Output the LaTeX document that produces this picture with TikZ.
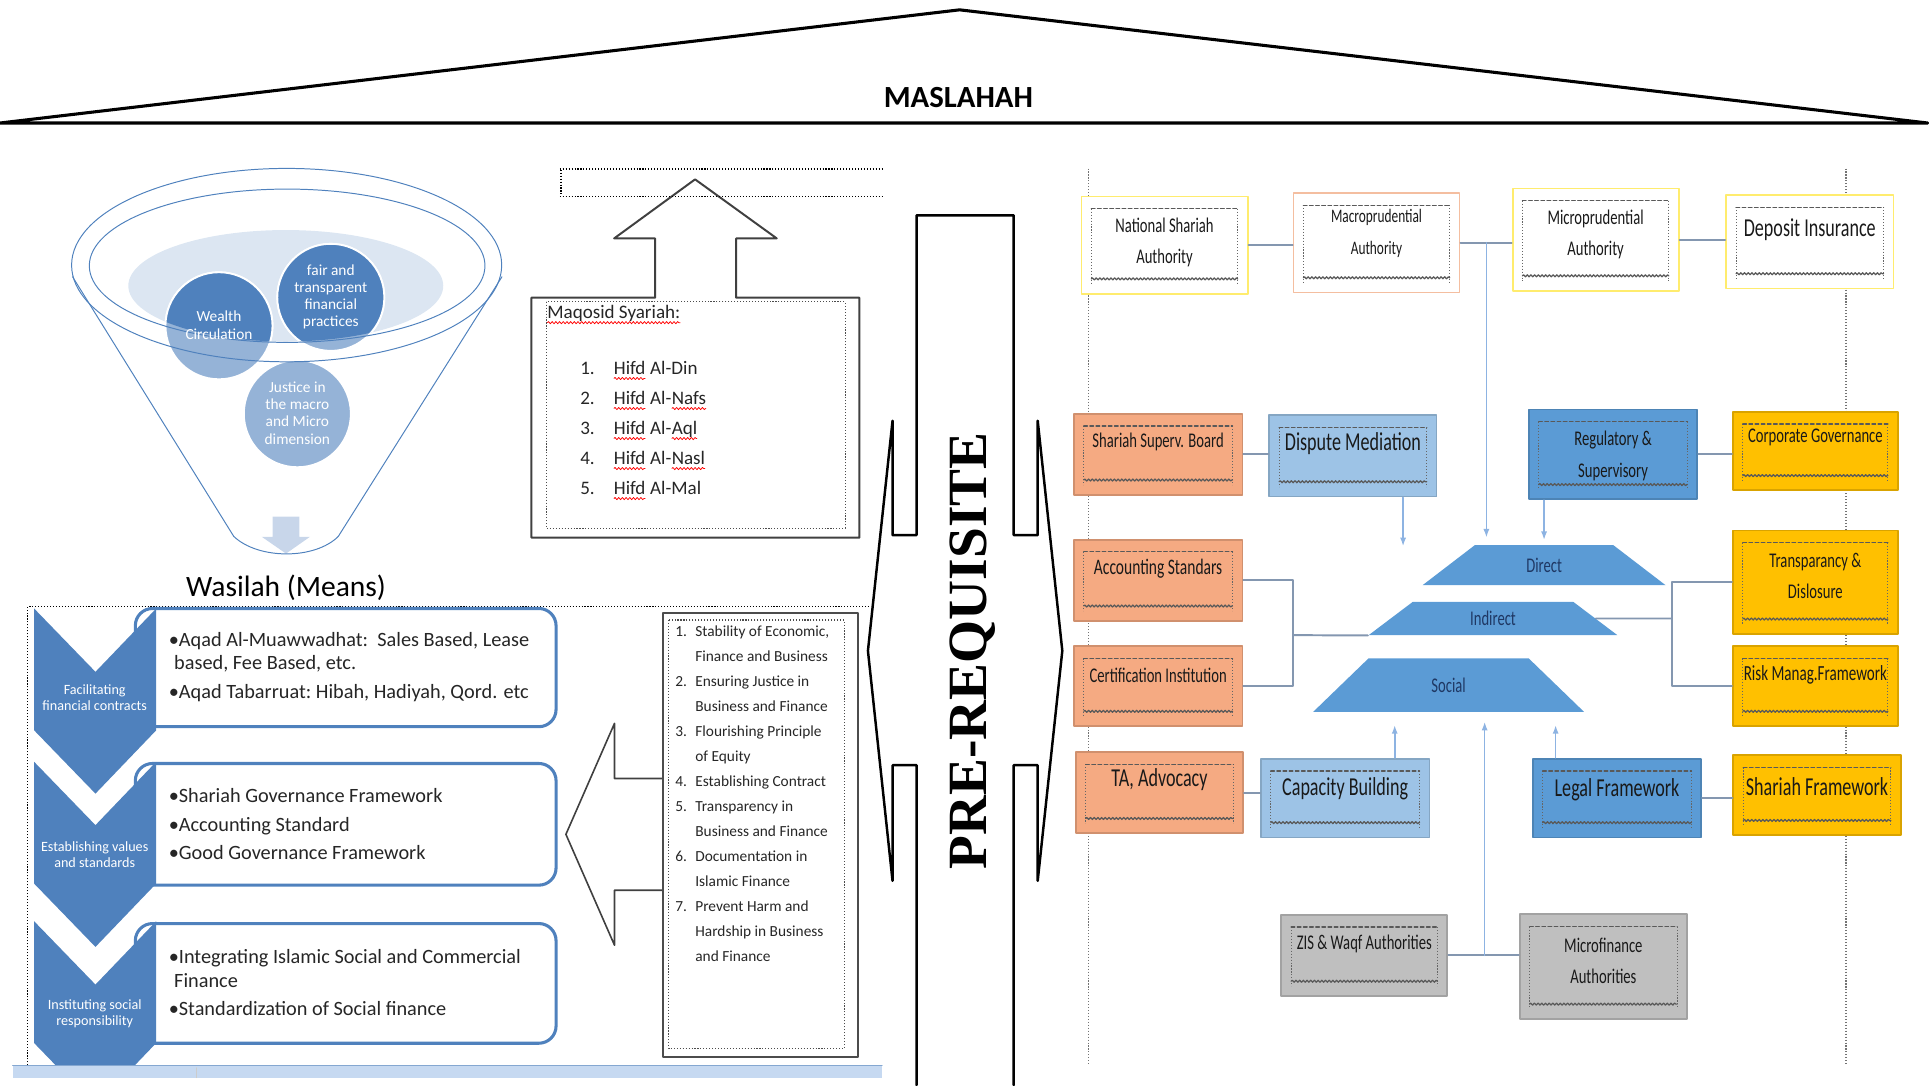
\documentclass[tikz,border=0pt]{standalone}
\usepackage{fontspec}
\setmainfont{Carlito}
\newfontfamily\narrowfont[FakeStretch=0.7]{Carlito}
\newfontfamily\prefont{Liberation Serif}
\usetikzlibrary{arrows.meta,shapes.geometric,decorations.pathmorphing}
\definecolor{chevblue}{RGB}{79,129,189}
\definecolor{lightcirc}{RGB}{149,179,215}
\definecolor{paleblue}{RGB}{220,230,242}
\definecolor{arrowpale}{RGB}{200,214,234}
\definecolor{salmon}{RGB}{245,170,130}
\definecolor{skyblue}{RGB}{157,195,230}
\definecolor{midblue}{RGB}{91,155,213}
\definecolor{gold}{RGB}{255,192,0}
\definecolor{greybox}{RGB}{191,191,191}
\definecolor{linkgrey}{RGB}{132,151,176}
\definecolor{feedblue}{RGB}{141,179,226}
\definecolor{pyellow}{RGB}{255,236,110}
\definecolor{ppeach}{RGB}{244,190,160}
\definecolor{barblue}{RGB}{198,217,241}
\definecolor{navytxt}{RGB}{31,56,100}
\newcommand{\spell}[1]{\tikz[baseline=(sw.base)]{\node[inner sep=0pt, outer sep=0pt] (sw) {#1};
  \draw[red, line width=0.6pt, decorate, decoration={snake, amplitude=0.9pt, segment length=3pt}]
    ([yshift=-3pt]sw.base west) -- ([yshift=-3pt]sw.base east);}}
\tikzset{
  dots/.style={line cap=butt, dash pattern=on 0.9pt off 1.5pt},
  boxdeco/.style={rectangle, line width=1.5pt, inner sep=0pt,
    path picture={
      \draw[black!60, dots, line width=0.8pt]
        ([shift={(8pt,-10pt)}]path picture bounding box.north west) -- ([shift={(8pt,8pt)}]path picture bounding box.south west)
        ([shift={(-8pt,-10pt)}]path picture bounding box.north east) -- ([shift={(-8pt,8pt)}]path picture bounding box.south east);
      \draw[black!65, line width=1pt, dash pattern=on 3pt off 2pt]
        ([shift={(8pt,-10pt)}]path picture bounding box.north west) -- ([shift={(-8pt,-10pt)}]path picture bounding box.north east);
      \draw[black!65, line width=1pt, decorate, decoration={snake, amplitude=0.8pt, segment length=3pt}]
        ([shift={(8pt,12pt)}]path picture bounding box.south west) -- ([shift={(-8pt,12pt)}]path picture bounding box.south east);
    }},
  orgbox/.style={boxdeco, fill=#1, draw=#1!85!black},
  authbox/.style={boxdeco, fill=white, draw=#1},
  orgtxt/.style={inner sep=0pt, align=center, text=black!90},
  trap/.style={trapezium, trapezium stretches=true, fill=midblue, inner sep=0pt,
    text=navytxt, font=\narrowfont\fontsize{17}{19}\selectfont},
  link/.style={linkgrey, line width=1.6pt},
  feed/.style={feedblue, line width=1.3pt, -{Latex[length=7pt,width=5pt]}},
  circtxt/.style={text=white, align=center, inner sep=0pt, font=\fontsize{12.5}{14}\selectfont},
  chevtxt/.style={text=white, align=center, inner sep=0pt, font=\fontsize{11.5}{13}\selectfont},
  boxtxt/.style={inner sep=0pt, text=black!85, font=\fontsize{16.5}{20}\selectfont},
}
\begin{document}
\begin{tikzpicture}[x=1pt, y=-1pt, line cap=round, line join=round]
\useasboundingbox (0,0) rectangle (1568,882);

\draw[line width=2.5pt] (0,100) -- (780,8) -- (1567,100) -- cycle;
\node[font=\fontsize{25}{30}\selectfont\bfseries] (maslahah) at (779,79) {MASLAHAH};

\fill[paleblue] (232.3,232.3) ellipse [x radius=128, y radius=45.3];
\foreach \cx/\cy in {178/264.8, 268.9/241.7, 241.7/336.3}
  \filldraw[fill=lightcirc, draw=white, line width=1.5pt] (\cx,\cy) circle [radius=43.5];
\begin{scope}
  \clip (232.3,232.3) ellipse [x radius=128, y radius=45.3];
  \foreach \cx/\cy in {178/264.8, 268.9/241.7}
    \filldraw[fill=chevblue, draw=white, line width=1.5pt] (\cx,\cy) circle [radius=43.5];
\end{scope}
\fill[arrowpale] (221.7,420) -- (243.3,420) -- (243.3,436.3) -- (252,436.3) -- (232.5,450) -- (212.7,436.3) -- (221.7,436.3) -- cycle;
\draw[chevblue, line width=0.8pt] (233.4,216) ellipse [x radius=160.8, y radius=62.3];
\draw[chevblue, line width=0.8pt] (233,215.5) ellipse [x radius=174.8, y radius=78.6];
\draw[chevblue, line width=0.8pt] (59,225) -- (190,436) .. controls (210,455) and (256,455) .. (275,436) -- (408,225);
\node[circtxt] (wealth) at (178,264.3) {Wealth\\Circulation};
\node[circtxt] (fair) at (268.9,241.4) {fair and\\transparent\\financial\\practices};
\node[circtxt] (justice) at (241.7,335.7) {Justice in\\the macro\\and Micro\\dimension};
\node[font=\fontsize{24}{28}\selectfont] (wasilah) at (232.5,478) {Wasilah (Means)};

\draw[dots, line width=0.9pt] (22.5,866) -- (22.5,493) -- (707,493);
\foreach \t/\b in {494.6/590.7, 620.6/719.5, 750.7/848}
  \draw[chevblue, line width=2.5pt, fill=white, rounded corners=14pt] (110,\t) rectangle (452,\b);
\begin{scope}
  \clip (0,0) rectangle (1568,866);
  \foreach \t in {494.6,619.2,748.8}
    \fill[chevblue] (27.7,\t) -- (77.6,\t+51.5) -- (127,\t) -- (127,\t+99) -- (77.6,\t+150.5) -- (27.7,\t+99) -- cycle;
\end{scope}
\node[chevtxt] (chev1) at (77,567) {Facilitating\\financial contracts};
\node[chevtxt] (chev2) at (77,695) {Establishing values\\and standards};
\node[chevtxt] (chev3) at (77,824) {Instituting social\\responsibility};
\foreach \x/\y/\txt [count=\i] in {
  137/525.5/{•Aqad Al-Muawwadhat:\ \ Sales Based, Lease},
  141.4/544.5/{based, Fee Based, etc.},
  137/567.5/{•Aqad Tabarruat:\ Hibah, Hadiyah, Qord. etc},
  137/652.5/{•Shariah Governance Framework},
  137/675.5/{•Accounting Standard},
  137/698.5/{•Good Governance Framework},
  137/783.5/{•Integrating Islamic Social and Commercial},
  141.4/802.5/{Finance},
  137/825.5/{•Standardization of Social finance}}
  \node[boxtxt, anchor=base west] (means\i) at (\x,\y) {\txt};

\draw[black!75, line width=1.6pt] (432,437) -- (432,242) -- (532.5,242) -- (532.5,193.8) -- (499.2,193.8) -- (565,145.8) -- (631.4,193.8) -- (598.4,193.8) -- (598.4,242) -- (698.6,242) -- (698.6,437) -- cycle;
\draw[black!70, dots, line width=0.9pt] (444,245.3) rectangle (687,429.5);
\node[anchor=west, inner sep=0pt, text=black!85, font=\fontsize{15.5}{18}\selectfont] (maqtitle) at (444.4,256) {\spell{Maqosid Syariah:}};
\node[anchor=north west, inner sep=0pt, text=black!85, font=\fontsize{15.5}{24.4}\selectfont] (maqlist) at (471.5,287.4) {%
\begin{tabular}{@{}p{27pt}@{}l@{}}
1. & \spell{Hifd} Al-Din\\
2. & \spell{Hifd} Al-\spell{Nafs}\\
3. & \spell{Hifd} Al-\spell{Aql}\\
4. & \spell{Hifd} Al-\spell{Nasl}\\
5. & \spell{Hifd} Al-Mal
\end{tabular}};
\draw[dots, line width=0.9pt] (455,137.4) -- (717,137.4) (455,160) -- (717,160);
\draw[dots, line width=1.8pt] (456,138) -- (456,158);

\draw[black!75, line width=1.3pt] (538.8,632.8) -- (499.5,632.8) -- (499.5,588) -- (460,678.2) -- (499.5,768.3) -- (499.5,723.6) -- (538.8,723.6);
\draw[black!70, line width=1.6pt] (538.8,498) rectangle (697.8,859);
\draw[black!70, dots, line width=0.9pt] (543.4,504) rectangle (686.2,852.5);
\begin{scope}
  \clip (543.4,504) rectangle (687,852.5);
  \node[anchor=north west, inner sep=0pt, text=black!85, font=\fontsize{12.5}{20.3}\selectfont] (princ) at (548.8,503.3) {%
  \begin{tabular}{@{}p{16.2pt}@{}l@{}}
  1. & Stability of Economic,\\
     & Finance and Business\\
  2. & Ensuring Justice in\\
     & Business and Finance\\
  3. & Flourishing Principle\\
     & of Equity\\
  4. & Establishing Contract\\
  5. & Transparency in\\
     & Business and Finance\\
  6. & Documentation in\\
     & Islamic Finance\\
  7. & Prevent Harm and\\
     & Hardship in Business\\
     & and Finance
  \end{tabular}};
\end{scope}

\fill[barblue] (10.3,866) rectangle (717,876);
\draw[chevblue!70, line width=1pt] (10.3,866) -- (717,866);
\draw[black!20, line width=0.8pt] (160,868) -- (160,876);

\draw[line width=2pt] (745,882) -- (745,622) -- (725.5,622) -- (725.5,716) -- (705.5,529) -- (725.5,342) -- (725.5,435) -- (745,435) -- (745,175) -- (824,175) -- (824,435) -- (843.5,435) -- (843.5,342) -- (863.5,529) -- (843.5,716) -- (843.5,622) -- (824,622) -- (824,882);
\node[rotate=90, font=\prefont\bfseries\fontsize{45}{50}\selectfont] (prereq) at (791,529) {PRE-REQUISITE};

\draw[dots, black!55, line width=1.1pt] (885,137) -- (885,866) (1500.6,137) -- (1500.6,866);

\node[authbox=pyellow, minimum width=135, minimum height=79] (nsa) at (946.6,199.2) {};
\node[authbox=ppeach, minimum width=135, minimum height=81] (macro) at (1118.9,197.3) {};
\node[authbox=pyellow, minimum width=135, minimum height=83] (micro) at (1297,194.7) {};
\node[authbox=pyellow, minimum width=136, minimum height=76] (deposit) at (1471.1,196.5) {};
\node[orgbox=salmon, minimum width=137, minimum height=66] (ssb) at (941.4,369.2) {};
\node[orgbox=skyblue, minimum width=136, minimum height=66] (dispute) at (1099.7,370.6) {};
\node[orgbox=midblue, minimum width=137, minimum height=73] (regsup) at (1311.2,369.4) {};
\node[orgbox=gold, minimum width=134, minimum height=64] (corpgov) at (1475.6,366.6) {};
\node[orgbox=salmon, minimum width=137, minimum height=66] (acct) at (941.4,471.6) {};
\node[orgbox=gold, minimum width=134, minimum height=84] (transp) at (1475.6,473.2) {};
\node[orgbox=salmon, minimum width=137, minimum height=65] (cert) at (941.4,557.7) {};
\node[orgbox=gold, minimum width=134, minimum height=65] (risk) at (1475.6,557.7) {};
\node[orgbox=salmon, minimum width=136, minimum height=66] (ta) at (942.5,644.3) {};
\node[orgbox=skyblue, minimum width=137, minimum height=64] (capb) at (1093.4,648.7) {};
\node[orgbox=midblue, minimum width=137, minimum height=64] (legal) at (1314.4,648.7) {};
\node[orgbox=gold, minimum width=136, minimum height=65] (shfw) at (1477,646.4) {};
\node[orgbox=greybox, minimum width=135, minimum height=66] (zis) at (1109,776.6) {};
\node[orgbox=greybox, minimum width=136, minimum height=85] (mfa) at (1303.3,785.7) {};

\foreach \n/\x/\y/\s/\txt in {
  nsa/946.6/197/17/{National Shariah\\Authority},
  macro/1118.9/189.7/15.5/{Macroprudential\\Authority},
  micro/1297/190.4/17/{Microprudential\\Authority},
  deposit/1471.1/187/21/{Deposit Insurance},
  ssb/941.4/359/17/{Shariah Superv. Board},
  dispute/1099.7/360.4/21/{Dispute Mediation},
  regsup/1311.2/370.6/17/{Regulatory \&\\Supervisory},
  corpgov/1475.6/355.6/17/{Corporate Governance},
  acct/941.4/462/18/{Accounting Standars},
  transp/1475.6/468.2/17/{Transparancy \&\\Dislosure},
  cert/941.4/548.8/17/{Certification Institution},
  risk/1475.6/548.8/17.5/{Risk Manag.Framework},
  ta/942.5/634.1/21/{TA, Advocacy},
  capb/1093.4/641/21/{Capacity Building},
  legal/1314.4/642/21/{Legal Framework},
  shfw/1477/639.5/21/{Shariah Framework},
  zis/1109/767/17/{ZIS \& Waqf Authorities},
  mfa/1303.3/781.2/17/{Microfinance\\Authorities}}
  \node[orgtxt, font=\narrowfont\fontsize{\s}{25.5}\selectfont] (\n-lbl) at (\x,\y) {\txt};

\node[trap, minimum width=198.4, minimum height=32.5, trapezium angle=47.3] (direct) at (1255.1,459.4) {Direct};
\node[trap, minimum width=203, minimum height=27.1, trapezium angle=49.4] (indirect) at (1213.6,502.75) {Indirect};
\node[trap, minimum width=221, minimum height=43.4, trapezium angle=51.1] (social) at (1177.5,556.9) {Social};

\draw[link] (nsa.east) -- (nsa.east -| macro.west);
\draw[link] (macro.east) -- (macro.east -| micro.west);
\draw[link] (micro.east) -- (micro.east -| deposit.west);
\coordinate (drop) at (1208.2,197.3);
\draw[feed, shorten >=6pt] (drop) -- (drop |- direct.north);
\draw[link] (ssb.east) -- (ssb.east -| dispute.west);
\coordinate (dm-end) at (1140.5,444);
\draw[feed] (dispute.south -| dm-end) -- (dm-end);
\draw[feed, shorten >=4pt] (regsup.south -| direct.north) -- (direct.north);
\draw[link] (regsup.east) -- (regsup.east -| corpgov.west);
\coordinate (rjoin) at (1358.8,502.75);
\draw[link] (transp.west) -| (rjoin) |- (risk.west);
\draw[link] (indirect.east) -- (rjoin);
\coordinate (ljoin) at (1051.2,516.3);
\draw[link] (acct.east) -| (ljoin) |- (cert.east);
\draw[link] (ljoin) -- (indirect.bottom left corner);
\draw[link] (ta.east) -- (ta.east -| capb.west);
\coordinate (cb-end) at (1133.7,589.4);
\draw[feed] (capb.north -| cb-end) -- (cb-end);
\coordinate (lf-end) at (1264.5,589.4);
\draw[feed] (legal.north -| lf-end) -- (lf-end);
\draw[link] (legal.east) -- (legal.east -| shfw.west);
\draw[link] (zis.east) -- (zis.east -| mfa.west);
\coordinate (soc-end) at (1206.8,586.7);
\draw[feed] (zis.east -| soc-end) -- (soc-end);
\end{tikzpicture}
\end{document}
